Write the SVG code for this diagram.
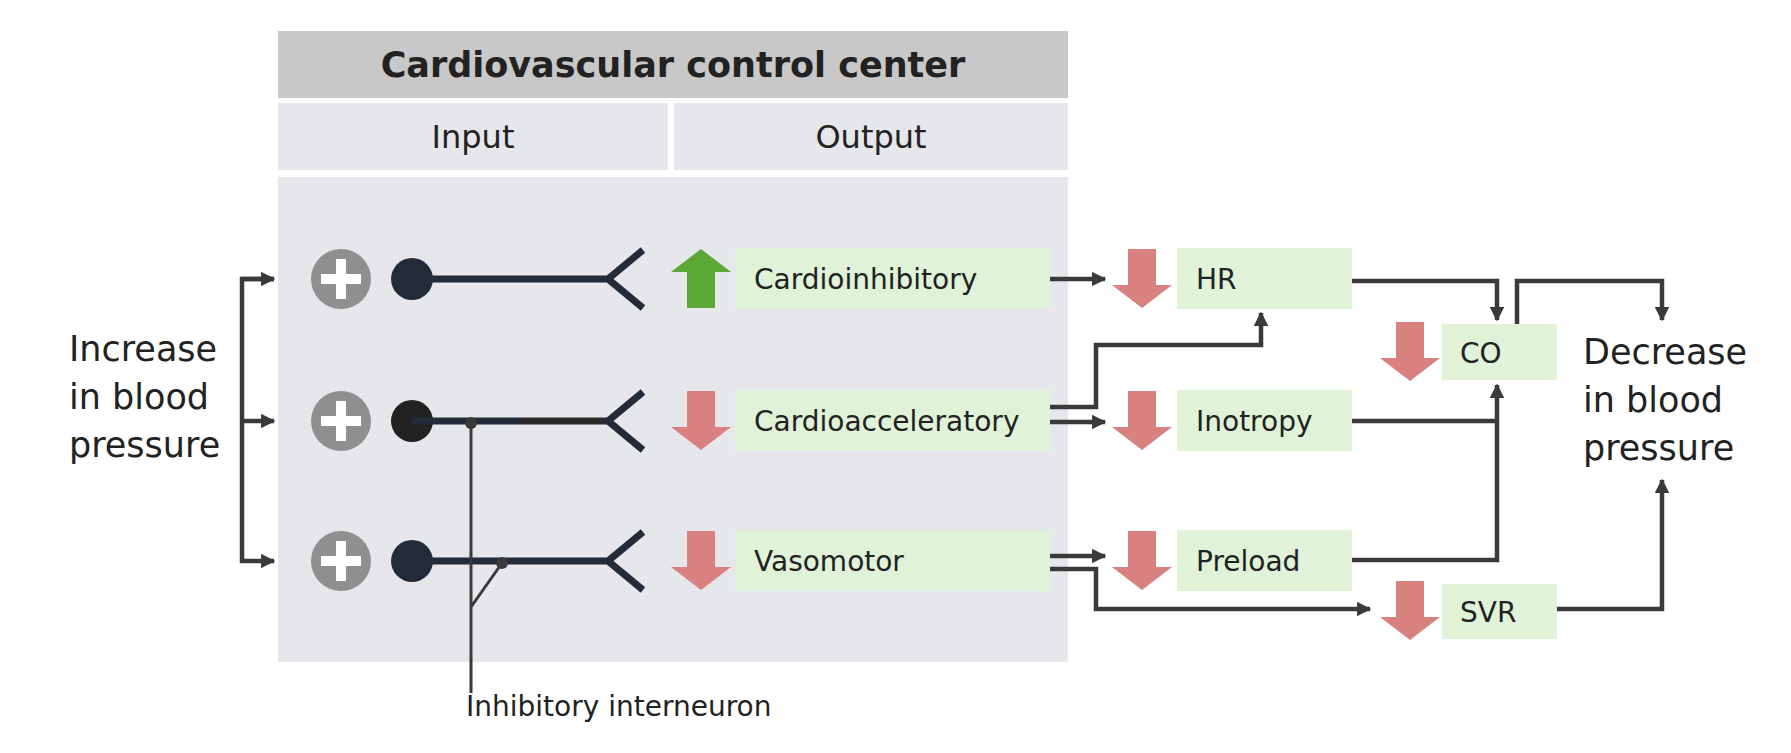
<svg xmlns="http://www.w3.org/2000/svg" width="1791" height="753" viewBox="0 0 1791 753">
<defs>
<style>
text{font-family:"DejaVu Sans","Noto Sans",sans-serif;fill:#222}
.lbl{font-size:28px}
.big{font-size:35px}
.box{fill:#e0f2d8}
.c{fill:none;stroke:#3a3a3a;stroke-width:4.5}
.ax{fill:none;stroke:#232a38;stroke-width:7}
.dn{fill:#d98080}
</style>
<marker id="ah" viewBox="0 0 10 10" refX="9" refY="5" markerWidth="3.2" markerHeight="3.2" orient="auto"><path d="M0,0L10,5L0,10z" fill="#3a3a3a"/></marker>
<path id="down" d="M-14,0H14V36H30L0,59L-30,36H-14z" class="dn"/>
<g id="plus"><circle r="30" fill="#8f8f8f"/><path d="M-5,-20H5V-5H20V5H5V20H-5V5H-20V-5H-5z" fill="#fff"/></g>
</defs>
<rect width="1791" height="753" fill="#fff"/>
<g id="center">
<rect x="278" y="31" width="790" height="67" fill="#c8c8c8"/>
<text x="673" y="77" font-size="35" font-weight="bold" text-anchor="middle">Cardiovascular control center</text>
<rect x="278" y="103" width="390" height="67" fill="#e6e7eb"/>
<rect x="674" y="103" width="394" height="67" fill="#e6e7eb"/>
<text x="473" y="148" font-size="32" text-anchor="middle">Input</text>
<text x="871" y="148" font-size="32" text-anchor="middle">Output</text>
<rect x="278" y="177" width="790" height="485" fill="#e6e7eb"/>
</g>
<g id="neurons">
<use href="#plus" x="341" y="279"/><use href="#plus" x="341" y="421"/><use href="#plus" x="341" y="561"/>
<circle cx="412" cy="279" r="21" fill="#232a38"/><circle cx="412" cy="421" r="21" fill="#222"/><circle cx="412" cy="561" r="21" fill="#232a38"/>
<path class="ax" d="M412,279H608M643,250L608,279L643,308"/>
<path class="ax" d="M412,421H523"/><path d="M523,421H608" stroke="#2a2a2a" stroke-width="7"/><path class="ax" d="M643,392L608,421L643,450"/>
<path class="ax" d="M412,561H608M643,532L608,561L643,590"/>
<path d="M471,421V693M502,563L471,607" fill="none" stroke="#3a3a3a" stroke-width="3"/>
<circle cx="471" cy="423" r="6" fill="#3a3a3a"/><circle cx="502" cy="563" r="6" fill="#3a3a3a"/>
<text x="466" y="716" class="lbl">Inhibitory interneuron</text>
</g>
<g id="outputs">
<path d="M-14,0H14V-36H30L0,-59L-30,-36H-14z" fill="#5ca836" transform="translate(701,308)"/>
<use href="#down" x="701" y="391"/><use href="#down" x="701" y="531"/>
<rect class="box" x="735" y="248" width="315" height="61"/><text x="754" y="289" class="lbl">Cardioinhibitory</text>
<rect class="box" x="735" y="390" width="315" height="61"/><text x="754" y="431" class="lbl">Cardioacceleratory</text>
<rect class="box" x="735" y="530" width="315" height="61"/><text x="754" y="571" class="lbl">Vasomotor</text>
</g>
<g id="effects">
<use href="#down" x="1142" y="249"/><rect class="box" x="1177" y="248" width="175" height="61"/><text x="1196" y="289" class="lbl">HR</text>
<use href="#down" x="1142" y="391"/><rect class="box" x="1177" y="390" width="175" height="61"/><text x="1196" y="431" class="lbl">Inotropy</text>
<use href="#down" x="1142" y="531"/><rect class="box" x="1177" y="530" width="175" height="61"/><text x="1196" y="571" class="lbl">Preload</text>
<use href="#down" x="1410" y="322"/><rect class="box" x="1442" y="324" width="115" height="56"/><text x="1460" y="363" class="lbl">CO</text>
<use href="#down" x="1410" y="581"/><rect class="box" x="1442" y="584" width="115" height="55"/><text x="1460" y="622" class="lbl">SVR</text>
</g>
<g id="labels">
<text class="big" x="69" y="361">Increase</text><text class="big" x="69" y="409">in blood</text><text class="big" x="69" y="457">pressure</text>
<text class="big" x="1583" y="364">Decrease</text><text class="big" x="1583" y="412">in blood</text><text class="big" x="1583" y="460">pressure</text>
</g>
<g id="connectors">
<path class="c" d="M274,279H242V561H274" marker-end="url(#ah)"/>
<path class="c" d="M242,421H274" marker-end="url(#ah)"/>
<path class="c" d="M242,279H274" marker-end="url(#ah)"/>
<path class="c" d="M1050,279H1105" marker-end="url(#ah)"/>
<path class="c" d="M1050,407H1096V345H1261V313" marker-end="url(#ah)"/>
<path class="c" d="M1050,422H1105" marker-end="url(#ah)"/>
<path class="c" d="M1050,556H1105" marker-end="url(#ah)"/>
<path class="c" d="M1050,569H1096V609H1370" marker-end="url(#ah)"/>
<path class="c" d="M1352,281H1497V320" marker-end="url(#ah)"/>
<path class="c" d="M1352,421H1497"/>
<path class="c" d="M1352,560H1497V385" marker-end="url(#ah)"/>
<path class="c" d="M1517,324V281H1662V320" marker-end="url(#ah)"/>
<path class="c" d="M1557,609H1662V480" marker-end="url(#ah)"/>
</g>
</svg>
